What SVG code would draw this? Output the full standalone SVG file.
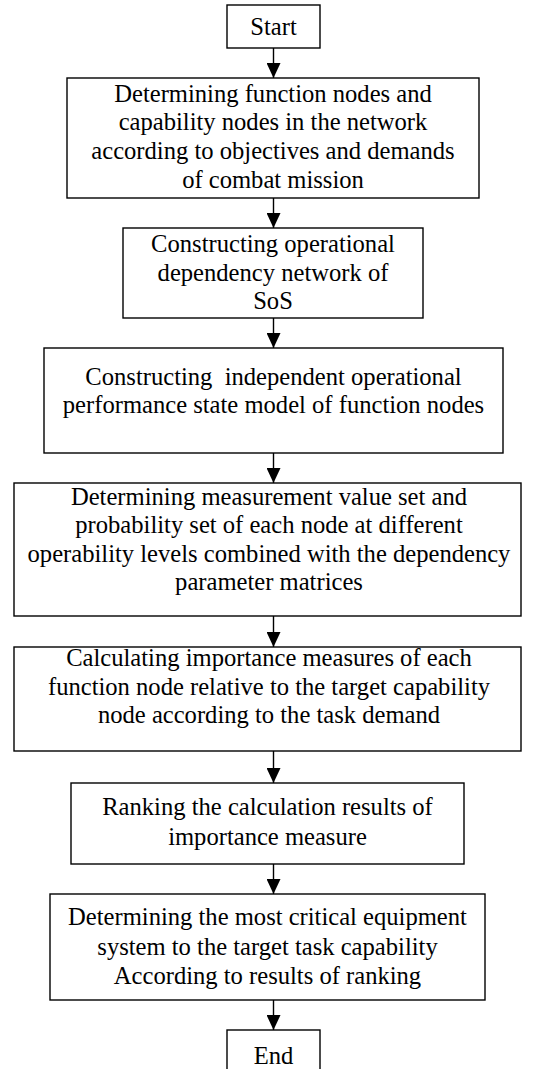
<svg xmlns="http://www.w3.org/2000/svg" width="535" height="1069" viewBox="0 0 535 1069">
<style>
.box{fill:#fff;stroke:#000;stroke-width:1.4}
.t{font-family:"Liberation Serif","Times New Roman",serif;font-size:24.6px;fill:#000;text-anchor:middle}
.c{stroke:#000;stroke-width:1.4;fill:none;marker-end:url(#ah)}
</style>
<defs>
<marker id="ah" markerUnits="userSpaceOnUse" markerWidth="15" markerHeight="14" refX="15" refY="7" orient="auto" viewBox="0 0 15 14">
<path d="M0,0 L15,7 L0,14 z" fill="#000"/>
</marker>
</defs>
<rect width="535" height="1069" fill="#fff"/>
<g id="connectors">
<line class="c" x1="273.5" y1="48" x2="273.5" y2="78"/>
<line class="c" x1="273.5" y1="198" x2="273.5" y2="228"/>
<line class="c" x1="273.5" y1="318" x2="273.5" y2="348"/>
<line class="c" x1="273.5" y1="453" x2="273.5" y2="483"/>
<line class="c" x1="273.5" y1="616" x2="273.5" y2="647"/>
<line class="c" x1="273.5" y1="751" x2="273.5" y2="783"/>
<line class="c" x1="273.5" y1="864" x2="273.5" y2="894"/>
<line class="c" x1="273.5" y1="1000" x2="273.5" y2="1030"/>
</g>
<g id="start">
<rect class="box" x="227" y="5" width="93" height="43"/>
<text class="t" x="273.5" y="35">Start</text>
</g>
<g id="n1">
<rect class="box" x="67" y="78" width="412" height="120"/>
<text class="t" x="273" y="102">Determining function nodes and</text>
<text class="t" x="273" y="130">capability nodes in the network</text>
<text class="t" x="273" y="159">according to objectives and demands</text>
<text class="t" x="273" y="188">of combat mission</text>
</g>
<g id="n2">
<rect class="box" x="123" y="228" width="300" height="90"/>
<text class="t" x="273" y="252">Constructing operational</text>
<text class="t" x="273" y="281">dependency network of</text>
<text class="t" x="273" y="309">SoS</text>
</g>
<g id="n3">
<rect class="box" x="44" y="348" width="459" height="105"/>
<text class="t" x="273.5" y="385" xml:space="preserve">Constructing  independent operational</text>
<text class="t" x="273.5" y="413">performance state model of function nodes</text>
</g>
<g id="n4">
<rect class="box" x="14" y="483" width="507" height="133"/>
<text class="t" x="269" y="505">Determining measurement value set and</text>
<text class="t" x="269" y="533">probability set of each node at different</text>
<text class="t" x="269" y="562">operability levels combined with the dependency</text>
<text class="t" x="269" y="590">parameter matrices</text>
</g>
<g id="n5">
<rect class="box" x="14" y="647" width="507" height="104"/>
<text class="t" x="269" y="666">Calculating importance measures of each</text>
<text class="t" x="269" y="695">function node relative to the target capability</text>
<text class="t" x="269" y="723">node according to the task demand</text>
</g>
<g id="n6">
<rect class="box" x="71" y="783" width="393" height="81"/>
<text class="t" x="267.5" y="815">Ranking the calculation results of</text>
<text class="t" x="267.5" y="845">importance measure</text>
</g>
<g id="n7">
<rect class="box" x="50" y="894" width="435" height="106"/>
<text class="t" x="267.5" y="925">Determining the most critical equipment</text>
<text class="t" x="267.5" y="955">system to the target task capability</text>
<text class="t" x="267.5" y="984">According to results of ranking</text>
</g>
<g id="end">
<rect class="box" x="227" y="1030" width="93" height="45"/>
<text class="t" x="273.5" y="1064">End</text>
</g>
</svg>
